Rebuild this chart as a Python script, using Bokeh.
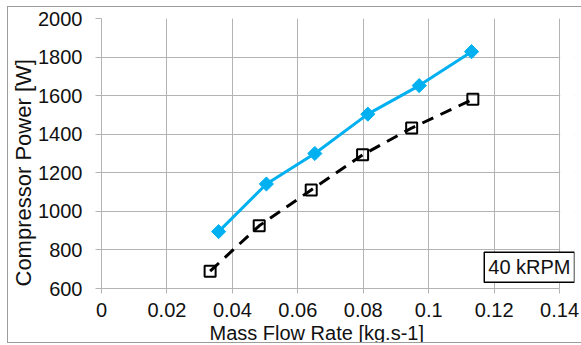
import math
from bokeh.plotting import figure
from bokeh.models import Label, FixedTicker, Title, BoxAnnotation
from bokeh.embed import file_html
from bokeh.resources import INLINE

# ---- data ----
flow_measured = [0.0358, 0.0504, 0.0652, 0.0814, 0.0971, 0.1131]
power_measured = [895, 1142, 1300, 1504, 1652, 1828]
flow_model = [0.0332, 0.0482, 0.0641, 0.0798, 0.0948, 0.1135]
power_model = [690, 925, 1111, 1293, 1432, 1581]

x_ticks = [0, 0.02, 0.04, 0.06, 0.08, 0.10, 0.12, 0.14]
x_tick_labels = ["0", "0.02", "0.04", "0.06", "0.08", "0.1", "0.12", "0.14"]
y_ticks = [600, 800, 1000, 1200, 1400, 1600, 1800, 2000]
y_tick_labels = ["600", "800", "1000", "1200", "1400", "1600", "1800", "2000"]

x_title = "Mass Flow Rate [kg.s-1]"
y_title = "Compressor Power [W]"
note = "40 kRPM"

FONT = "Liberation Sans"
GRID = "#B3B3B3"
BLUE = "#00B0F0"
TXT = "#111111"

X_MAX = 0.14
X_VIEW = 0.14457  # frame extends a bit to the right so the note box fits

p = figure(width=576, height=337, x_range=(0, X_VIEW), y_range=(600, 2000),
           output_backend="svg", toolbar_location=None,
           min_border_left=91, min_border_right=10, min_border_top=11, min_border_bottom=56)
p.margin = (6, 0, 0, 7)
p.styles = {"border": "1px solid #9C9C9C"}
p.background_fill_color = "white"
p.border_fill_color = "white"
p.outline_line_color = None

p.xgrid.ticker = FixedTicker(ticks=x_ticks)
p.ygrid.ticker = FixedTicker(ticks=y_ticks)
p.grid.grid_line_color = GRID
p.grid.grid_line_width = 1

p.xaxis.ticker = FixedTicker(ticks=x_ticks)
p.yaxis.ticker = FixedTicker(ticks=y_ticks)
p.xaxis.bounds = (0, X_MAX)
p.xaxis.major_label_overrides = {t: l for t, l in zip(x_ticks, x_tick_labels)}
p.yaxis.major_label_overrides = {t: l for t, l in zip(y_ticks, y_tick_labels)}
for ax in (p.xaxis, p.yaxis):
    ax.axis_line_color = GRID
    ax.major_tick_line_color = GRID
    ax.minor_tick_line_color = None
    ax.major_tick_in = 0
    ax.major_label_text_font = FONT
    ax.major_label_text_font_size = "20px"
    ax.major_label_text_color = TXT
p.yaxis.major_tick_out = 6
p.yaxis.major_label_standoff = 13
p.xaxis.major_tick_out = 5
p.xaxis.major_label_standoff = 9

# model / predicted (dashed black with open squares)
p.line(flow_model, power_model, line_color="black", line_width=3, line_dash="12 8")
p.scatter(flow_model, power_model, marker="square", size=11, fill_color=None,
          line_color="black", line_width=2)

# measured (blue with diamonds)
p.line(flow_measured, power_measured, line_color=BLUE, line_width=3)
p.scatter(flow_measured, power_measured, marker="square", angle=math.pi / 4, size=10,
          fill_color=BLUE, line_color=BLUE, line_width=1)

# hide the grid beyond the last x tick
p.add_layout(BoxAnnotation(left=X_MAX + 0.0002, right=X_VIEW, bottom=600, top=2000,
                           fill_color="white", fill_alpha=1, line_color=None))

p.add_layout(Label(x=427.9, y=21.3, x_units="screen", y_units="screen", text=note,
                   text_font=FONT, text_font_size="20px", text_color=TXT,
                   text_align="center", text_baseline="middle",
                   border_line_color="black", border_line_width=1.5,
                   background_fill_color="white", padding=4))

p.add_layout(Title(text=x_title, align="left", offset=108, standoff=0,
                   text_font=FONT, text_font_size="20px", text_font_style="normal",
                   text_color=TXT), "below")
p.add_layout(Title(text=y_title, align="left", offset=2, standoff=0,
                   text_font=FONT, text_font_size="22px", text_font_style="normal",
                   text_color=TXT), "left")

open("out.html", "w").write(file_html(p, INLINE))
